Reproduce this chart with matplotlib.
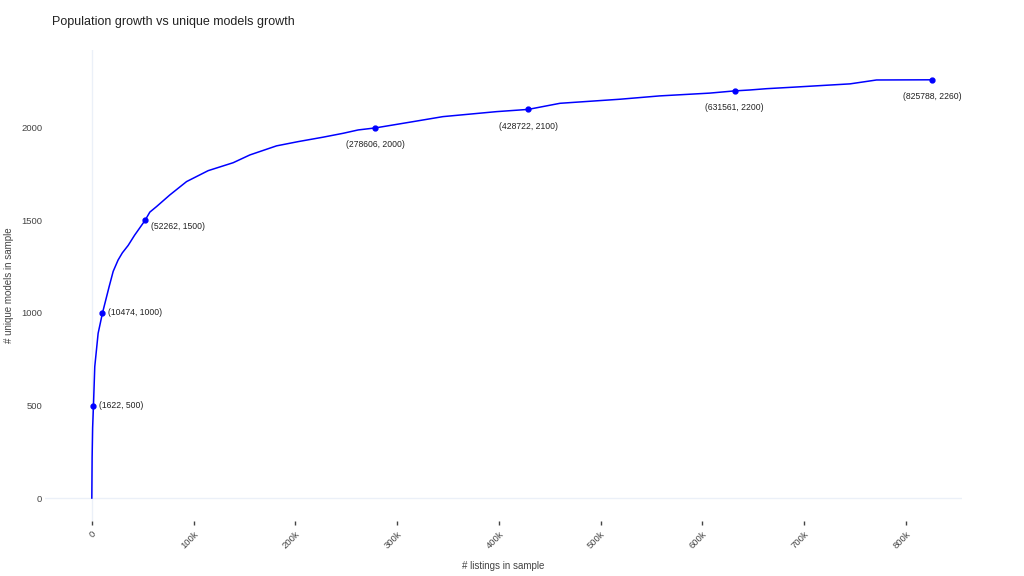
import matplotlib
matplotlib.use("Agg")
import matplotlib.pyplot as plt
from matplotlib.ticker import FuncFormatter

plt.rcParams['font.family'] = ['Liberation Sans', 'DejaVu Sans']

# curve: listings in sample -> unique models
listings = [0, 300, 800, 1622, 2900, 6200, 10474, 17000, 21000, 25800, 30000,
            35700, 42000, 52262, 57000, 63600, 76700, 93100, 114300, 138900,
            155300, 181500, 202800, 227300, 247000, 261700, 278606, 315800,
            345000, 397700, 428722, 460000, 519000, 558000, 607000, 631561,
            646700, 663000, 689000, 745000, 771000, 825788]
models = [0, 220, 380, 500, 710, 890, 1000, 1142, 1225, 1286, 1325,
          1365, 1420, 1500, 1545, 1575, 1638, 1710, 1769, 1812,
          1854, 1903, 1926, 1950, 1971, 1989, 2000, 2034,
          2061, 2088, 2100, 2133, 2155, 2173, 2188, 2200,
          2205, 2212, 2220, 2238, 2259, 2260]

# marked points
mark_x = [1622, 10474, 52262, 278606, 428722, 631561, 825788]
mark_y = [500, 1000, 1500, 2000, 2100, 2200, 2260]

fig = plt.figure(figsize=(10.24, 5.76), dpi=100)
ax = fig.add_axes([45 / 1024, 1 - 521 / 576, 917 / 1024, 471 / 576])

ax.axhline(0, color='#ebf0f8', lw=1, zorder=0)
ax.axvline(0, color='#ebf0f8', lw=1, zorder=0)

ax.plot(listings, models, color='#0000ff', lw=1.1)
ax.plot(mark_x, mark_y, 'o', color='#0000ff', ms=3.5)

for x, y in zip(mark_x, mark_y):
    label = '(%d, %d)' % (x, y)
    if y <= 1000:
        ax.annotate(label, (x, y), xytext=(4, 0), textcoords='offset points',
                    ha='left', va='center', fontsize=6.2, color='#222222')
    elif y == 1500:
        ax.annotate(label, (x, y), xytext=(4, -4), textcoords='offset points',
                    ha='left', va='center', fontsize=6.2, color='#222222')
    else:
        ax.annotate(label, (x, y), xytext=(0, -12), textcoords='offset points',
                    ha='center', va='center', fontsize=6.2, color='#222222')

ax.set_xlim(-46000, 855000)
ax.set_ylim(-124, 2421)

ax.set_xticks([0, 100000, 200000, 300000, 400000, 500000, 600000, 700000, 800000])
ax.xaxis.set_major_formatter(FuncFormatter(lambda v, p: '0' if v == 0 else '%dk' % (v / 1000)))
ax.set_yticks([0, 500, 1000, 1500, 2000])

for s in ax.spines.values():
    s.set_visible(False)

ax.tick_params(axis='x', direction='out', length=3, width=1, color='#444444',
               labelsize=6.8, labelcolor='#444444', pad=3, labelrotation=45)
for lbl in ax.get_xticklabels():
    lbl.set_ha('right')
    lbl.set_va('top')
    lbl.set_rotation_mode('anchor')
ax.tick_params(axis='y', length=0, labelsize=6.8, labelcolor='#444444', pad=2)

ax.set_xlabel('# listings in sample', fontsize=7, color='#444444', labelpad=8)
ax.set_ylabel('# unique models in sample', fontsize=7, color='#444444', labelpad=5)

fig.text(52 / 1024, 1 - 22 / 576, 'Population growth vs unique models growth',
         fontsize=9, color='#222222', ha='left', va='center')

fig.savefig('out.png', dpi=100)
